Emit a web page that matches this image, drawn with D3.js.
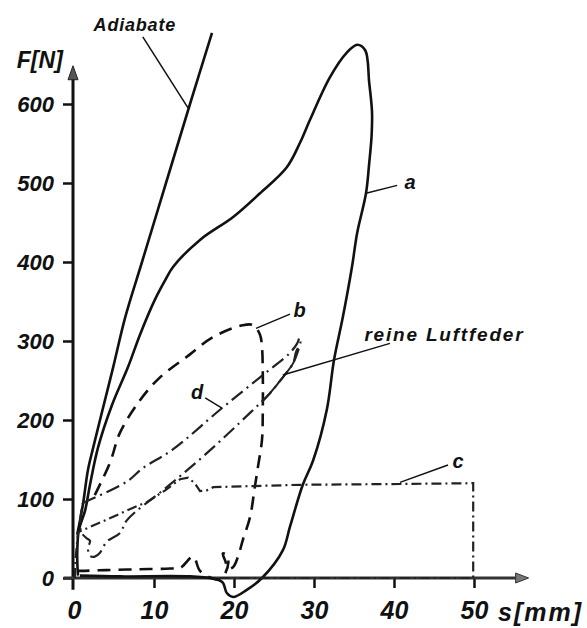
<!DOCTYPE html>
<html>
<head>
<meta charset="utf-8">
<script src="https://cdn.jsdelivr.net/npm/d3@7"></script>
<style>
  body { margin: 0; background: #fff; }
  svg text { font-family: "Liberation Sans", Arial, sans-serif; font-style: italic; font-weight: bold; fill: #111; }
</style>
</head>
<body>
<script>
// ---- data (s in mm, F in N) ----
const yTicks = [0, 100, 200, 300, 400, 500, 600];
const xTicks = [0, 10, 20, 30, 40, 50];

const adiabate = [[0.4,55],[1.1,92],[1.75,137],[2.4,165],[3.25,200],[4.9,267],[6.4,330],
  [8.5,400],[11.5,500],[14.5,600],[17.25,690]];

// loop a: upper branch from origin, peak, right branch, dip below zero, back along axis
const curveA = [[0.5,3],[0.4,30],[0.6,60],[1.4,86],[2,118],[3,165],[4.75,219],[6.75,267],[8.25,308],
  [10.1,352],[11.4,377],[12.4,394],[15.75,428],[19.9,457],[23.25,487],[26.6,520],[28.25,551],
  [29.5,580],[32,634],[34.1,665],[35.4,675],[36.4,668],[36.9,627],[37.25,590],[37.2,560],
  [36.9,525],[36.5,487],[35.4,437],[34.75,394],[33.6,330],[32.5,276],[31.6,213],[29.9,149],
  [28.6,118],[27,65],[26.1,35],[23.5,0],[21.6,-15],[19.9,-24],[19.1,-19],[18.6,-6],[17.6,-1],
  [14.5,2],[5.75,2],[0.75,3]];

// loop b (dashed)
const curveB = [[2.6,105],[4.5,146],[5.75,184],[8.25,225],[10.75,254],[14.1,280],[17.4,305],
  [21.1,320],[22.4,320],[23.25,308],[23.5,292],[23.6,259],[23.6,213],[23.5,175],[23,141],
  [22.6,115],[22,77],[21.1,48],[20.5,27],[19.9,14],[19.3,12],[18.9,22],[18.6,31],[19.1,29],
  [19.3,20],[18.8,4],[18.2,-2],[17.4,-1],[15.75,9],[14.9,27],[13.3,13],[12,12],[8,11],
  [4,10],[1,9],[0.4,9]];

// curve c (dash-dot): rise, plateau to 50 mm, drop, back along axis
const curveC = [[0.1,0],[0.2,25],[0.5,58],[3.9,73],[7.4,89],[9.1,96],[11.4,111],[13.25,125],
  [14.25,127],[15.1,120],[15.75,110],[16.6,111],[17.4,115],[28.25,118],[40.75,119],
  [49.9,120],[49.9,0],[25,0],[17,0]];

// loop d (dash-dot)
const curveD = [[1.1,95],[6.6,122],[8.6,139],[12.4,163],[18.25,213],[23.25,254],[27,285],
  [27.9,297],[28.2,304],[28.3,298],[27.75,286],[27.4,272],[26.1,254],[24.5,234],[22,209],
  [16.6,158],[11.6,115],[6.6,73],[5.75,57],[4.1,46],[3.25,32],[2.6,27],[2,28],[1.75,38],
  [2,47],[1.5,51],[0.9,58],[0.8,75],[1.1,95]];

// pure air spring (thin solid), coincides with the upper part of d's lower branch
const luftfeder = [[23.6,224],[24.5,234],[26.1,254],[27.4,272],[28.1,290]];

// ---- setup ----
const W = 587, H = 628;
const x = d3.scaleLinear().domain([0, 50]).range([74, 474]);
const y = d3.scaleLinear().domain([0, 600]).range([578, 104]);

const svg = d3.select("body").append("svg")
  .attr("width", W).attr("height", H);

const line = d3.line().x(d => x(d[0])).y(d => y(d[1]));
const smooth = d3.line().x(d => x(d[0])).y(d => y(d[1])).curve(d3.curveCatmullRom.alpha(0.5));

// ---- axes ----
const yAxis = d3.axisLeft(y).tickValues(yTicks).tickSize(10).tickPadding(9);
const xAxis = d3.axisBottom(x).tickValues(xTicks).tickSize(10).tickPadding(13);

const gy = svg.append("g").attr("transform", `translate(${x(0) - 1},0)`).call(yAxis);
const gx = svg.append("g").attr("transform", `translate(0,${y(0)})`).call(xAxis);

[gy, gx].forEach(g => {
  g.select(".domain").remove();
  g.selectAll(".tick line").attr("stroke", "#111").attr("stroke-width", 2.5);
  g.selectAll(".tick text").attr("fill", "#111").attr("font-family", "Liberation Sans, Arial")
    .attr("font-style", "italic").attr("font-weight", "bold");
});
gy.selectAll(".tick text").attr("font-size", 22);
gx.selectAll(".tick text").attr("font-size", 25);
gx.selectAll(".tick line").filter(d => d === 0).remove();

// axis lines with arrow heads
svg.append("line")
  .attr("x1", x(0) - 1).attr("x2", x(0) - 1)
  .attr("y1", y(-15)).attr("y2", y(632))
  .attr("stroke", "#111").attr("stroke-width", 3);
svg.append("line")
  .attr("x1", x(-1.3)).attr("x2", x(55.2))
  .attr("y1", y(0)).attr("y2", y(0))
  .attr("stroke", "#333").attr("stroke-width", 3);

const ax0 = x(0) - 1, ay0 = y(632);
svg.append("path")
  .attr("d", `M${ax0},${ay0 - 13} L${ax0 - 5},${ay0 + 1} L${ax0 + 5},${ay0 + 1} Z`)
  .attr("fill", "#555").attr("stroke", "#222").attr("stroke-width", 1);
const bx0 = x(55.2), by0 = y(0);
svg.append("path")
  .attr("d", `M${bx0 + 13},${by0} L${bx0},${by0 - 5} L${bx0},${by0 + 5} Z`)
  .attr("fill", "#777").attr("stroke", "#333").attr("stroke-width", 1);

svg.append("text").attr("x", x(-1.4)).attr("y", y(645)).attr("text-anchor", "end")
  .attr("font-size", 23).text("F[N]");
svg.append("text").attr("x", x(53)).attr("y", y(-54)).attr("font-size", 25)
  .attr("letter-spacing", 2).text("s[mm]");

// ---- curves ----
svg.append("path").datum(adiabate).attr("d", smooth)
  .attr("fill", "none").attr("stroke", "#111").attr("stroke-width", 2.6);

svg.append("path").datum(curveA).attr("d", smooth)
  .attr("fill", "none").attr("stroke", "#111").attr("stroke-width", 2.6);

svg.append("path").datum(curveB).attr("d", smooth)
  .attr("fill", "none").attr("stroke", "#111").attr("stroke-width", 2.6)
  .attr("stroke-dasharray", "13,8");

svg.append("path").datum(curveC).attr("d", line)
  .attr("fill", "none").attr("stroke", "#222").attr("stroke-width", 2.2)
  .attr("stroke-dasharray", "10,4,2,4");

svg.append("path").datum(curveD).attr("d", smooth)
  .attr("fill", "none").attr("stroke", "#222").attr("stroke-width", 2.2)
  .attr("stroke-dasharray", "14,5,2,5");

svg.append("path").datum(luftfeder).attr("d", smooth)
  .attr("fill", "none").attr("stroke", "#222").attr("stroke-width", 2);

// ---- annotations (leader lines + labels) ----
const leaders = [
  [[36.5,487],[40.4,497]],
  [[22.75,316],[27,334]],
  [[18.5,215],[16.4,228]],
  [[40.75,121],[46.75,143]],
  [[26.1,257],[39.5,297]],
  [[14.25,595],[8.6,685]]
];
leaders.forEach(p => {
  svg.append("path").datum(p).attr("d", line)
    .attr("fill", "none").attr("stroke", "#111").attr("stroke-width", 1.5);
});

const addLabel = (s, f, t, size, anchor) => svg.append("text")
  .attr("x", x(s)).attr("y", y(f)).attr("font-size", size)
  .attr("text-anchor", anchor || "middle").text(t);

addLabel(42, 492, "a", 20);
addLabel(28.2, 331, "b", 20);
addLabel(15.4, 226, "d", 20);
addLabel(48, 139, "c", 20);
addLabel(36.3, 300, "reine Luftfeder", 19, "start").attr("letter-spacing", 1.8);
addLabel(7.6, 693, "Adiabate", 18).attr("letter-spacing", 0.8);
</script>
</body>
</html>
